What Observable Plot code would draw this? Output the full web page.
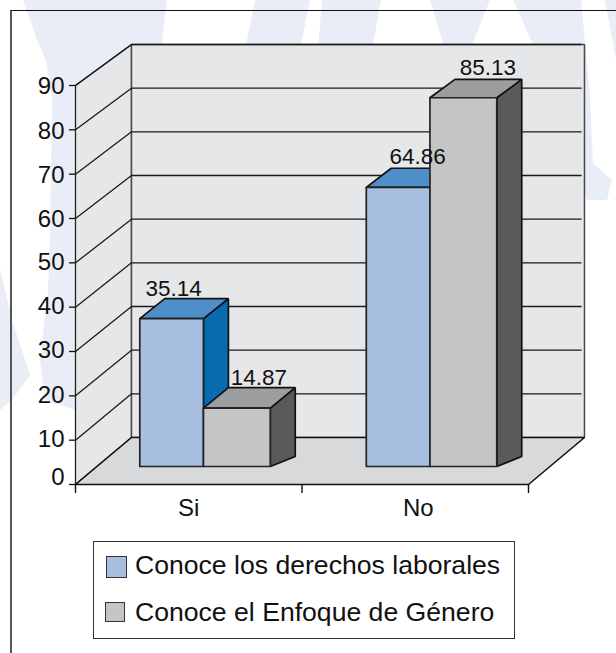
<!DOCTYPE html>
<html><head><meta charset="utf-8">
<script src="https://cdn.jsdelivr.net/npm/d3@7"></script>
<script src="https://cdn.jsdelivr.net/npm/@observablehq/plot@0.6"></script>
<style>
html,body{margin:0;padding:0;background:#fff;width:616px;height:653px;overflow:hidden;font-family:"Liberation Sans",sans-serif}
#page{position:relative;width:616px;height:653px;overflow:hidden}
.wm{position:absolute;inset:0;background:#e9edf6}
#frame{position:absolute;left:10px;top:10px;width:700px;height:700px;border-top:1.5px solid #111;border-left:2px solid #555}
#chart{position:absolute;left:0;top:0}
#legend{position:absolute;left:93px;top:541px;width:420px;height:96px;background:#fff;border:1.5px solid #333;box-sizing:content-box}
.sw{position:absolute;border:1.5px solid #333;box-sizing:border-box}
.lt{position:absolute;left:41px;font-size:26.6px;line-height:30px;color:#111;white-space:nowrap}
</style></head>
<body><div id="page"><div id="frame"></div><div id="chart"></div>
<div id="legend"></div></div>
<script>
// ---- data ----
const categories = ["Si", "No"];
const seriesNames = ["Conoce los derechos laborales", "Conoce el Enfoque de Género"];
const derechos = [35.14, 64.86];
const enfoque = [14.87, 85.13];
const yTicks = [0, 10, 20, 30, 40, 50, 60, 70, 80, 90];
const xTicks = [0, 1, 2];

// ---- colours ----
const faceBlue = "#a6bfe0", topBlue = "#4f8fc9", sideBlue = "#0a6ab0";
const faceGray = "#c4c5c7", topGray = "#9c9d9f", sideGray = "#5a5a5c";
const wallFill = "#e6e7e9", floorFill = "#d8d9db";

// ---- oblique projection with slight foreshortening, in data units ----
const DX = 0.2472, DY = 10.6, SHRINK = 0.015;   // back wall is depth 1
const P = (x, y, z = 0) => ({x: x + z * DX, y: y * (1 - z * SHRINK) + z * DY});
const zBar = 0.226, zDepth = 0.446;  // bar front plane and bar depth
const barFloor = 1.67, sideRise = -2.5;
const offL = -0.272, offM = 0.009, offR = 0.304;
const labelDx = [[2, 22], [19.5, 24.5]];

const poly = (pts, fill, stroke, strokeWidth = 1.7) =>
  Plot.line([...pts, pts[0]], {x: "x", y: "y", fill, stroke, strokeWidth, strokeLinejoin: "miter", curve: "linear"});

function bar(x0, x1, v, face, top, side) {
  return [
    poly([P(x1, v, zBar), P(x1, v, zBar + zDepth), P(x1, barFloor + sideRise, zBar + zDepth), P(x1, barFloor, zBar)], side, "#111"),
    poly([P(x0, v, zBar), P(x1, v, zBar), P(x1, v, zBar + zDepth), P(x0, v, zBar + zDepth)], top, "#111"),
    poly([P(x0, barFloor, zBar), P(x1, barFloor, zBar), P(x1, v, zBar), P(x0, v, zBar)], face, "#222")
  ];
}

const barMarks = [], labelMarks = [];
categories.forEach((c, i) => {
  const mid = i + 0.5;
  barMarks.push(...bar(mid + offL, mid + offM, derechos[i], faceBlue, topBlue, sideBlue));
  barMarks.push(...bar(mid + offM, mid + offR, enfoque[i], faceGray, topGray, sideGray));
  [[mid + (offL + offM) / 2, derechos[i]], [mid + (offM + offR) / 2, enfoque[i]]].forEach(([x, v], j) => {
    labelMarks.push(Plot.text([P(x, v, zBar)], {
      x: "x", y: "y", text: () => v.toFixed(2), dx: labelDx[i][j], dy: -23,
      lineAnchor: "bottom", textAnchor: "middle", fontSize: 22.5, fill: "#111"
    }));
  });
});

const gridTicks = yTicks.filter(t => t > 0);
const labelAxis = (ticks, dy) => Plot.axisY({ticks, tickSize: 0, tickPadding: 11, fontSize: 24, label: null, dy});
const chart = Plot.plot({
  width: 616, height: 653,
  marginLeft: 75, marginRight: 88, marginTop: 85, marginBottom: 169,
  style: {background: "transparent", fontFamily: "Liberation Sans, sans-serif", color: "#111", overflow: "visible"},
  x: {domain: [0, 2]},
  y: {domain: [0, 90]},
  marks: [
    // walls and floor
    poly([P(0, 0, 0), P(0, 90, 0), P(0, 90, 1), P(0, 0, 1)], wallFill, "#222", 1.3),
    poly([P(0, 0, 1), P(0, 90, 1), P(2, 90, 1), P(2, 0, 1)], wallFill, "#4a4a4a", 1.5),
    poly([P(0, 0, 0), P(2, 0, 0), P(2, 0, 1), P(0, 0, 1)], floorFill, "#111", 1.6),
    // grid
    ...gridTicks.map(t => Plot.line([P(0, t, 0), P(0, t, 1), P(1.985, t, 1)], {x: "x", y: "y", stroke: "#1a1a1a", strokeWidth: 1.3})),
    // axes
    Plot.axisY({ticks: yTicks, tickSize: 6, tickFormat: () => "", label: null, stroke: "#111", strokeWidth: 1.3}),
    labelAxis(gridTicks.filter(t => t >= 60), 1),
    labelAxis(gridTicks.filter(t => t < 60), -1),
    labelAxis([0], -7),
    Plot.axisX({ticks: xTicks, tickSize: 9, tickFormat: () => "", label: null, stroke: "#111", strokeWidth: 1.4}),
    Plot.axisX({ticks: [0.5], tickSize: 0, tickPadding: 14, fontSize: 24, label: null, tickFormat: () => categories[0]}),
    Plot.axisX({ticks: [1.5], tickSize: 0, tickPadding: 14, fontSize: 24, label: null, dx: 3, tickFormat: () => categories[1]}),
    ...barMarks,
    ...labelMarks
  ]
});
document.getElementById("chart").append(chart);

// ---- background watermark (decorative) and legend ----
const watermark = [
  "23px 0,167px 0,160px 60px,120px 300px,75px 410px,60px 405px,45px 400px,40px 360px,48px 290px,50px 240px,52px 100px,46px 60px,37px 40px",
  "0 268px,12px 320px,30px 375px,12px 400px,0 410px",
  "255px 0,310px 0,300px 50px,245px 50px",
  "322px 0,381px 0,372px 50px,318px 50px",
  "430px 0,490px 0,470px 50px,445px 50px",
  "513px 0,581px 0,590px 97px,593px 163px,612px 180px,607px 200px,587px 200px,540px 60px",
  "605px 0,616px 0,616px 60px"
];
const page = document.getElementById("page");
watermark.forEach(p => {
  const d = document.createElement("div");
  d.className = "wm"; d.style.clipPath = `polygon(${p})`;
  page.prepend(d);
});
const legend = document.getElementById("legend");
[[faceBlue, 12, 14, 21, 22, 8], [faceGray, 11, 60, 20, 20, 55]].forEach(([c, l, t, w, h, lt], i) => {
  const s = document.createElement("div");
  s.className = "sw";
  s.style.cssText = `left:${l}px;top:${t}px;width:${w}px;height:${h}px;background:${c}`;
  legend.append(s);
  const x = document.createElement("div");
  x.className = "lt"; x.style.top = lt + "px"; x.textContent = seriesNames[i];
  legend.append(x);
});
</script></body></html>
